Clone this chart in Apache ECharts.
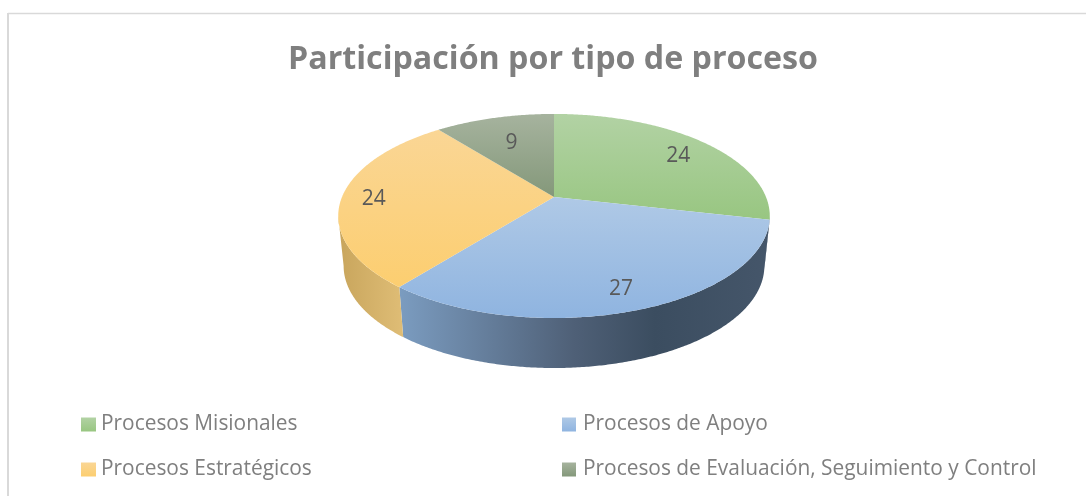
<!DOCTYPE html>
<html>
<head>
<meta charset="utf-8">
<style>
  html, body { margin: 0; padding: 0; background: #fff; }
  #chart { width: 1086px; height: 496px; }
</style>
<script src="https://cdn.jsdelivr.net/npm/echarts@6/dist/echarts.min.js"></script>
</head>
<body>
<div id="chart"></div>
<script>
const categories = ["Procesos Misionales", "Procesos de Apoyo", "Procesos Estratégicos", "Procesos de Evaluación, Seguimiento y Control"];
const values = [24, 27, 24, 9];

const topColors = [["#B2D2A4", "#98C681"], ["#AFC9E6", "#8FB4E0"], ["#FAD695", "#FCCE70"], ["#A6B39E", "#84987A"]];
const wallColors = [
  [[0, "#45566A"], [1, "#45566A"]],
  [[0, "#7B9CC0"], [0.47, "#4F6077"], [0.69, "#3B4D60"], [1, "#45566A"]],
  [[0, "#C8A55C"], [1, "#DFBD76"]],
  [[0, "#6B7D62"], [1, "#5A6B52"]]
];
const TEXT = "#7F7F7F";
const FONT = "'Open Sans', sans-serif";

// perspective disc: apex and scale fitted to the picture
const P = { cx: 554, cy: 197, a: 212, b: 98.5, k: 0.186, depth: 50, shrink: 0.975 };
// label place inside each slice (fraction of radius, degrees of shift)
const labelRadius = [0.8, 0.82, 0.85, 0.68];
const labelShift = [1.6, 0, 0, 0];

const total = values.reduce(function (s, v) { return s + v; }, 0);
const angles = [];
values.reduce(function (acc, v) {
  angles.push([acc / total * 360, (acc + v) / total * 360]);
  return acc + v;
}, 0);

// side wall only shows between the two silhouette angles
const frontFrom = Math.acos(-P.k) * 180 / Math.PI;
const frontTo = 360 - frontFrom;

function project(deg, r) {
  const t = deg * Math.PI / 180;
  const X = r * Math.sin(t), Y = -r * Math.cos(t);
  const w = 1 - P.k * Y;
  return [P.cx + P.a * X / w, P.cy + P.b * Y / w];
}
function arc(from, to) {
  const pts = [];
  const n = Math.max(2, Math.ceil((to - from) * 2));
  for (let i = 0; i <= n; i++) pts.push(project(from + (to - from) * i / n, 1));
  return pts;
}
function lower(p) {
  return [P.cx + (p[0] - P.cx) * P.shrink, p[1] + P.depth];
}
function grad(x2, y2, stops) {
  return {
    type: "linear", x: 0, y: 0, x2: x2, y2: y2,
    colorStops: stops.map(function (s) { return { offset: s[0], color: s[1] }; })
  };
}
function topGrad(i) {
  return grad(0, 1, [[0, topColors[i][0]], [1, topColors[i][1]]]);
}

function renderWall(params) {
  const i = params.dataIndex;
  const from = Math.max(angles[i][0], frontFrom);
  const to = Math.min(angles[i][1], frontTo);
  if (to <= from) return null;
  const rim = arc(from, to);
  const pts = rim.concat(rim.slice().reverse().map(lower));
  return { type: "polygon", shape: { points: pts }, style: { fill: grad(1, 0, wallColors[i]) } };
}

function renderTop(i) {
  return function () {
    const mid = (angles[i][0] + angles[i][1]) / 2 + labelShift[i];
    const lp = project(mid, labelRadius[i]);
    return {
      type: "group",
      children: [
        { type: "polygon", shape: { points: [[P.cx, P.cy]].concat(arc(angles[i][0], angles[i][1])) }, style: { fill: topGrad(i) } },
        { type: "text", z2: 10, style: { x: lp[0], y: lp[1] + 2.5, text: String(values[i]), fill: "#595959", font: "21px " + FONT, align: "center", verticalAlign: "middle" } }
      ]
    };
  };
}

const legendPlaces = [[81, 414], [562, 414], [81, 459], [562, 459]];

const chart = echarts.init(document.getElementById("chart"));
chart.setOption({
  animation: false,
  title: {
    text: "Participación por tipo de proceso",
    left: 548, top: 39, textAlign: "center",
    textStyle: { color: TEXT, fontFamily: FONT, fontSize: 32.2, fontWeight: "bold" }
  },
  graphic: [
    { type: "line", shape: { x1: 8, y1: 13.5, x2: 1086, y2: 13.5 }, style: { stroke: "#D9D9D9", lineWidth: 1.5 } },
    { type: "line", shape: { x1: 8, y1: 13, x2: 8, y2: 496 }, style: { stroke: "#D9D9D9", lineWidth: 2 } }
  ],
  legend: categories.map(function (name, i) {
    return {
      data: [{ name: name, icon: "rect", itemStyle: { color: topGrad(i) } }],
      left: legendPlaces[i][0], top: legendPlaces[i][1], padding: 0,
      itemWidth: i % 2 ? 14 : 15, itemHeight: 14, itemGap: 0, selectedMode: false,
      textStyle: { color: TEXT, fontFamily: FONT, fontSize: 20.9, padding: [0, 0, 0, i % 2 ? 2 : 0] }
    };
  }),
  series: [{
    type: "custom", coordinateSystem: "none", z: 1, silent: true,
    data: values, renderItem: renderWall
  }].concat(categories.map(function (name, i) {
    return {
      type: "custom", name: name, coordinateSystem: "none", z: 2, silent: true,
      data: [values[i]], renderItem: renderTop(i)
    };
  }))
});
</script>
</body>
</html>
